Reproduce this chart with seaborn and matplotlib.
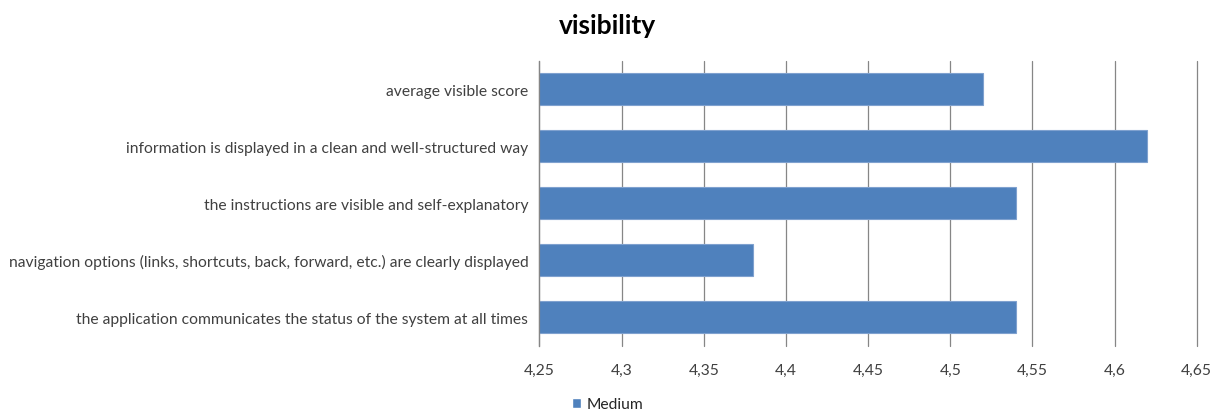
import matplotlib
matplotlib.use("Agg")
import matplotlib.pyplot as plt
import seaborn as sns
import pandas as pd
from matplotlib.ticker import FuncFormatter, MultipleLocator
from matplotlib.patches import Patch

# data
categories = [
    "average visible score",
    "information is displayed in a clean and well-structured way",
    "the instructions are visible and self-explanatory",
    "navigation options (links, shortcuts, back, forward, etc.) are clearly displayed",
    "the application communicates the status of the system at all times",
]
medium = [4.52, 4.62, 4.54, 4.38, 4.54]
series_name = "Medium"

sns.set_style("white")
plt.rcParams['font.family'] = ['Lato', 'DejaVu Sans']

bar_color = "#4F81BD"
grid_color = "#868686"

df = pd.DataFrame({"category": categories, "value": medium})

fig = plt.figure(figsize=(12.15, 4.10), dpi=100)
ax = fig.add_axes([0.444, 0.154, 0.541, 0.695])

sns.barplot(data=df, x="value", y="category", orient="h", color=bar_color,
            width=0.56, saturation=1, edgecolor="#7FA1CF", linewidth=0.8, ax=ax)

ax.set_xlim(4.25, 4.65)
ax.xaxis.set_major_locator(MultipleLocator(0.05))
ax.xaxis.set_major_formatter(FuncFormatter(lambda v, p: f"{v:.2f}".rstrip("0").rstrip(".").replace(".", ",")))
ax.grid(axis="x", color=grid_color, linewidth=0.9)
ax.set_axisbelow(True)
for gl in ax.get_xgridlines():
    gl.set_clip_on(False)

for s in ["top", "right", "bottom"]:
    ax.spines[s].set_visible(False)
ax.spines["left"].set_color(grid_color)
ax.spines["left"].set_linewidth(0.9)

ax.set_xlabel("")
ax.set_ylabel("")
ax.tick_params(axis="x", labelsize=11.25, colors="#404040", length=0, pad=12)
ax.tick_params(axis="y", labelsize=11.25, colors="#404040", length=0, pad=8)

fig.suptitle("visibility", x=0.5, y=0.965, fontsize=19, fontweight="bold", color="black")

handles = [Patch(facecolor=bar_color, label=series_name)]
fig.legend(handles=handles, loc="lower center", bbox_to_anchor=(0.5, -0.04), frameon=False,
           fontsize=11.25, handlelength=0.6, handleheight=0.6, handletextpad=0.3)

fig.savefig("out.png", dpi=100)
